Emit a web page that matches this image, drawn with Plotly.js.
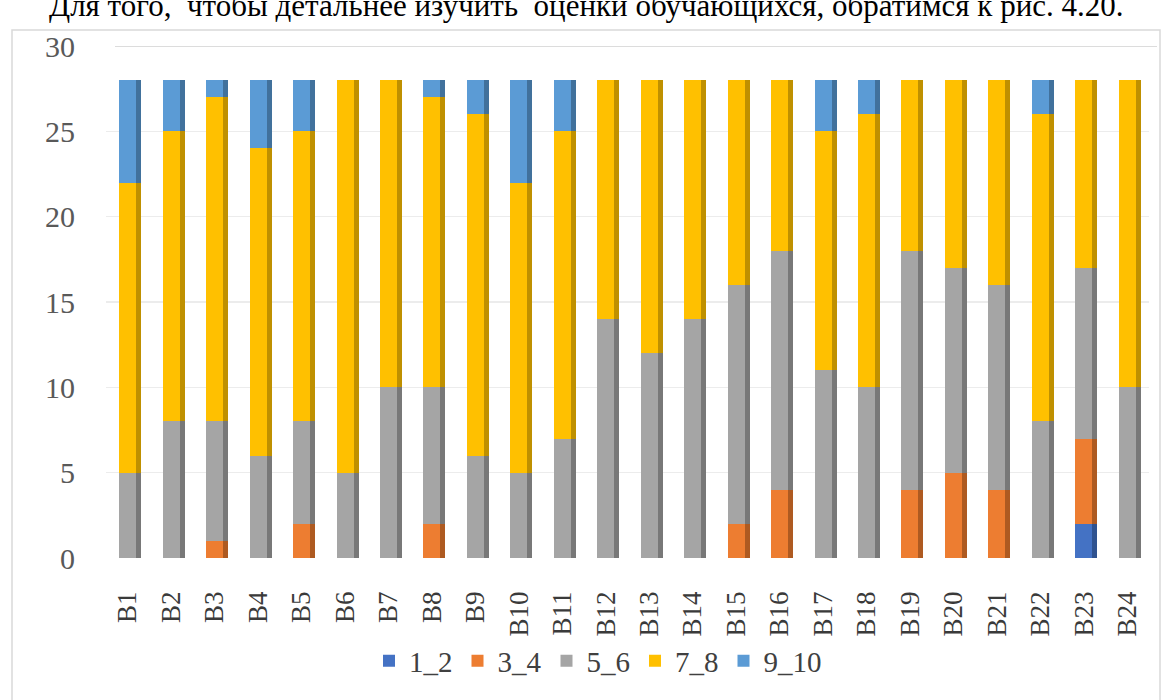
<!DOCTYPE html>
<html>
<head>
<meta charset="utf-8">
<script src="https://cdn.plot.ly/plotly-3.0.1.min.js"></script>
<style>
  html, body { margin: 0; padding: 0; background: #ffffff; }
  #chart { width: 1169px; height: 700px; }
</style>
</head>
<body>
<div id="chart"></div>
<script>
// Variants B1..B24
const variants = ['В1','В2','В3','В4','В5','В6','В7','В8','В9','В10','В11','В12',
                  'В13','В14','В15','В16','В17','В18','В19','В20','В21','В22','В23','В24'];

// Number of students per score band
const band_1_2  = [0,0,0,0,0,0,0,0,0,0,0,0, 0,0,0,0,0,0,0,0,0,0,2,0];
const band_3_4  = [0,0,1,0,2,0,0,2,0,0,0,0, 0,0,2,4,0,0,4,5,4,0,5,0];
const band_5_6  = [5,8,7,6,6,5,10,8,6,5,7,14, 12,14,14,14,11,10,14,12,12,8,10,10];
const band_7_8  = [17,17,19,18,17,23,18,17,20,17,18,14, 16,14,12,10,14,16,10,11,12,18,11,18];
const band_9_10 = [6,3,1,4,3,0,0,1,2,6,3,0, 0,0,0,0,3,2,0,0,0,2,0,0];

const seriesNames = ['1_2','3_4','5_6','7_8','9_10'];
const seriesData  = [band_1_2, band_3_4, band_5_6, band_7_8, band_9_10];
const faceColors  = ['#4472C4','#ED7D31','#A5A5A5','#FFC000','#5B9BD5'];
const sideColors  = ['#2F528F','#AE5A21','#787878','#BF9000','#41719C'];

const W = 1169, H = 700;
const M = { l: 106, r: 20, t: 46, b: 142 };
const plotW = W - M.l - M.r, plotH = H - M.t - M.b;
const px2x = p => (p - M.l) / plotW;
const px2y = p => (H - M.b - p) / plotH;

const catStep = plotW / variants.length;
const faceW = 17 / catStep;   // front face width, category units
const sideW = 5 / catStep;    // shaded side width, category units

const traces = [];
// Shaded right-hand sides (separate overlaid axis so they stack on their own)
seriesData.forEach((vals, i) => {
  traces.push({
    type: 'bar', x: variants, y: vals, xaxis: 'x2', yaxis: 'y',
    width: sideW, offset: faceW / 2,
    marker: { color: sideColors[i], line: { width: 0 } },
    showlegend: false, hoverinfo: 'skip'
  });
});
// Front faces
seriesData.forEach((vals, i) => {
  traces.push({
    type: 'bar', name: seriesNames[i], x: variants, y: vals,
    width: faceW, offset: -faceW / 2,
    marker: { color: faceColors[i], line: { width: 0 } }
  });
});

const serif = '"Liberation Serif"';

const layout = {
  width: W, height: H,
  margin: M,
  paper_bgcolor: '#ffffff', plot_bgcolor: '#ffffff',
  barmode: 'stack',
  font: { family: serif, color: '#404040' },
  annotations: [{
    // running text line of the page above the figure
    text: 'Для того,  чтобы детальнее изучить  оценки обучающихся, обратимся к рис. 4.20.',
    font: { family: serif, size: 31, color: '#000000' },
    xref: 'paper', yref: 'paper', x: px2x(586), xanchor: 'center',
    y: px2y(25), yanchor: 'bottom', showarrow: false
  }],
  xaxis: {
    type: 'category', range: [-0.5, variants.length - 0.5],
    showgrid: false, zeroline: false, showline: false,
    tickangle: -90, ticks: '', ticklabelstandoff: 27,
    tickfont: { family: serif, size: 27, color: '#3a3a3a' }
  },
  xaxis2: {
    type: 'category', overlaying: 'x', range: [-0.5, variants.length - 0.5],
    visible: false, showgrid: false, zeroline: false
  },
  yaxis: {
    range: [0, 30], tickvals: [0, 5, 10, 15, 20, 25, 30],
    showgrid: true, gridcolor: '#ececec', gridwidth: 1.5,
    zeroline: false, showline: false, ticks: '', ticklabelstandoff: 30,
    tickfont: { family: serif, size: 30, color: '#595959' }
  },
  legend: {
    orientation: 'h', x: px2x(598), xanchor: 'center',
    y: px2y(661), yanchor: 'middle',
    traceorder: 'normal', bgcolor: 'rgba(0,0,0,0)',
    font: { family: serif, size: 29, color: '#404040' },
    itemwidth: 30
  },
  shapes: [{
    type: 'rect', xref: 'paper', yref: 'paper', layer: 'below',
    x0: px2x(12), x1: px2x(1160), y0: px2y(712), y1: px2y(30),
    line: { color: '#d9d9d9', width: 1.5 }, fillcolor: 'rgba(0,0,0,0)'
  }, {
    // top rim of the back wall
    type: 'line', xref: 'paper', yref: 'y', layer: 'below',
    x0: px2x(115), x1: px2x(1157), y0: 30, y1: 30,
    line: { color: '#d0d0d0', width: 1.5 }
  }]
};

Plotly.newPlot('chart', traces, layout, { displayModeBar: false, staticPlot: true });
</script>
</body>
</html>
